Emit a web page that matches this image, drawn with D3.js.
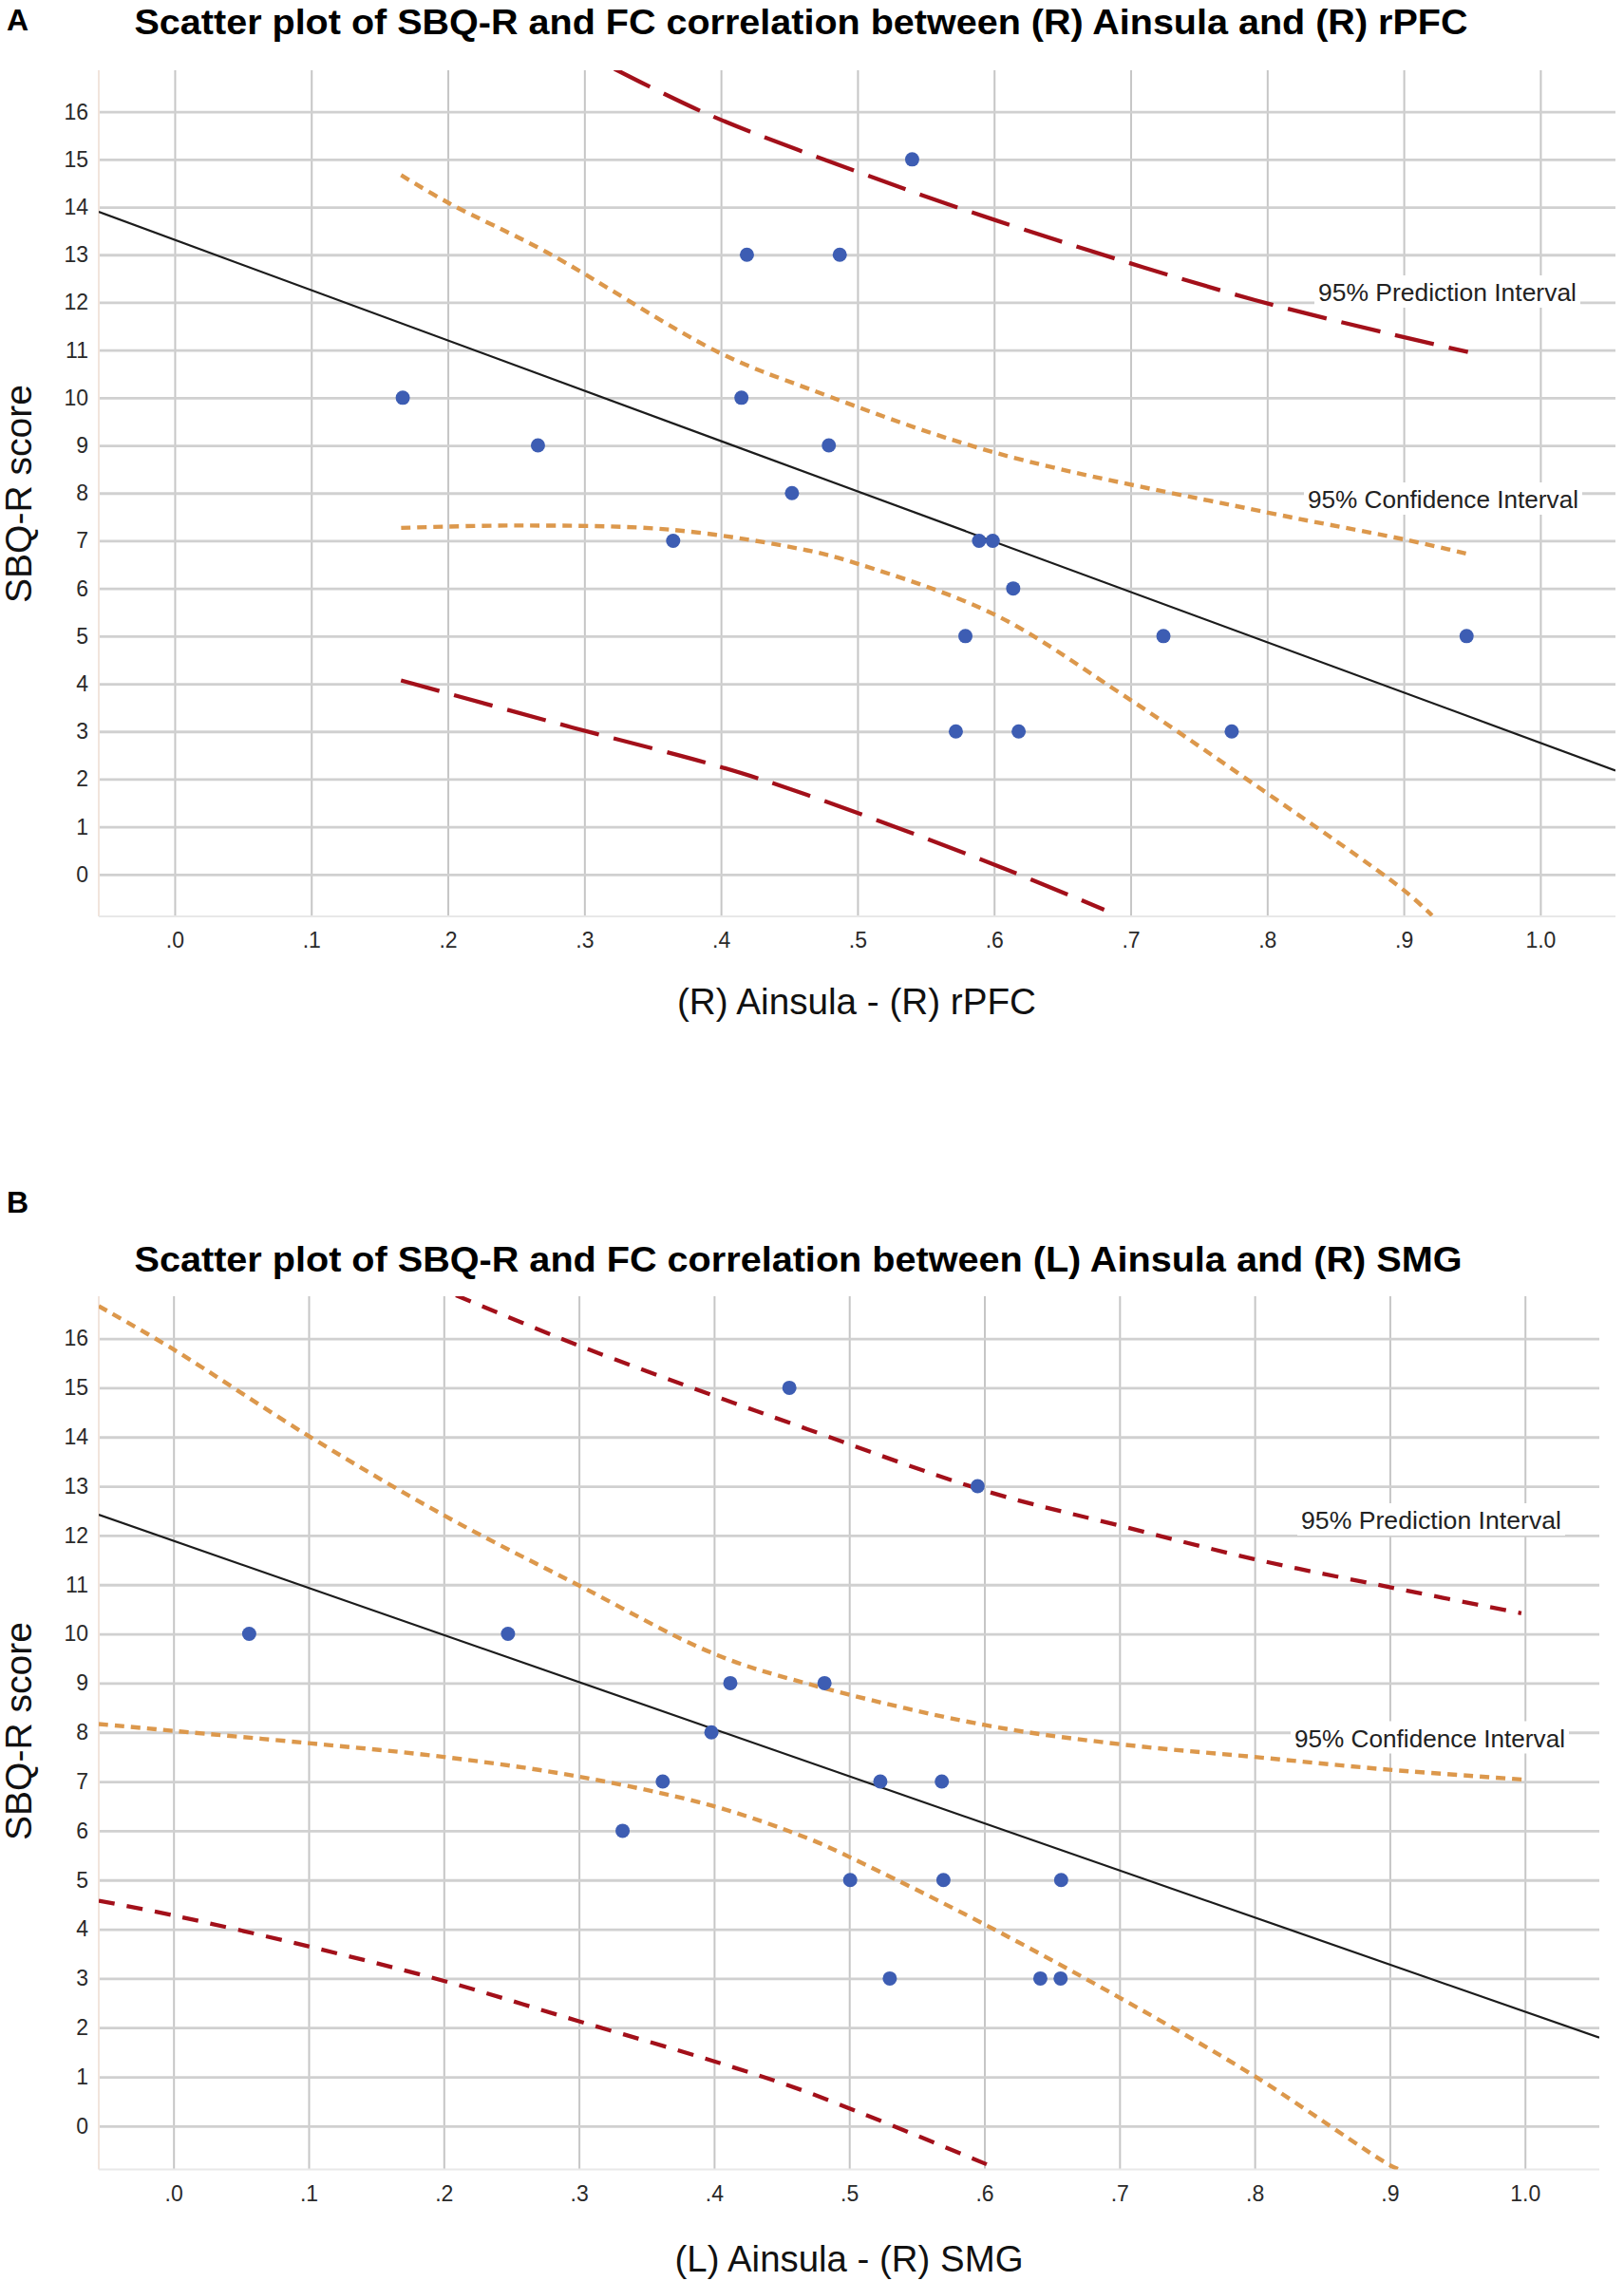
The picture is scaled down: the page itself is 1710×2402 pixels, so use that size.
<!DOCTYPE html>
<html lang="en">
<head>
<meta charset="UTF-8">
<title>SBQ-R and FC correlation scatter plots</title>
<script src="https://cdn.jsdelivr.net/npm/d3@7"></script>
<style>
    body {
        margin: 0;
        padding: 0;
        background: #ffffff;
        font-family: "Liberation Sans", Arial, sans-serif;
    }
    .xgrid line { stroke: #c6c6c6; stroke-width: 2; }
    .ygrid line { stroke: #d0d0d0; stroke-width: 2.8; }
    .xgrid text, .ygrid text { fill: #2a2a2a; }
</style>
</head>
<body>
<svg id="chart" width="1710" height="2402"></svg>
<script>
    // shared ticks
    const xTickValues = [0, 0.1, 0.2, 0.3, 0.4, 0.5, 0.6, 0.7, 0.8, 0.9, 1.0];
    const xTickLabels = [".0", ".1", ".2", ".3", ".4", ".5", ".6", ".7", ".8", ".9", "1.0"];
    const yTickValues = [0, 1, 2, 3, 4, 5, 6, 7, 8, 9, 10, 11, 12, 13, 14, 15, 16];

    // panel A : (R) Ainsula - (R) rPFC
    const aX = [0.167, 0.266, 0.419, 0.415, 0.452, 0.365, 0.540, 0.487, 0.479,
                0.589, 0.599, 0.614, 0.579, 0.724, 0.946, 0.572, 0.618, 0.774];
    const aY = [10, 9, 13, 10, 8, 7, 15, 13, 9, 7, 7, 6, 5, 5, 5, 3, 3, 3];
    const aFit = [[-0.0556, 13.9], [1.055, 2.18]];
    const aPIUpper = [[0.322, 16.9], [0.391, 15.94], [0.501, 14.73], [0.6005, 13.73], [0.791, 12.05], [0.947, 10.96]];
    const aPILower = [[0.1657, 4.07], [0.2915, 3.08], [0.398, 2.27], [0.463, 1.67], [0.6005, 0.2], [0.6806, -0.74]];
    const aCIUpper = [[0.1658, 14.67], [0.2003, 14.09], [0.2726, 13.05], [0.3985, 10.95], [0.465, 10.18],
                      [0.6005, 8.85], [0.799, 7.6], [0.900, 7.03], [0.946, 6.73]];
    const aCILower = [[0.1658, 7.27], [0.2535, 7.32], [0.364, 7.23], [0.463, 6.8], [0.501, 6.51], [0.6005, 5.45],
                      [0.692, 3.81], [0.791, 1.88], [0.900, -0.33], [0.9207, -0.86]];

    // panel B : (L) Ainsula - (R) SMG
    const bX = [0.056, 0.2475, 0.4557, 0.412, 0.595, 0.4817, 0.398, 0.362, 0.3323,
                0.523, 0.5685, 0.5007, 0.5697, 0.6568, 0.530, 0.6414, 0.6564];
    const bY = [10, 10, 15, 9, 13, 9, 8, 7, 6, 7, 7, 5, 5, 5, 3, 3, 3];
    const bFit = [[-0.0553, 12.42], [1.055, 1.80]];
    const bPIUpper = [[0.209, 16.88], [0.2996, 15.86], [0.3998, 14.84], [0.469, 14.16], [0.600, 12.91],
                      [0.700, 12.2], [0.7996, 11.52], [0.8998, 10.95], [0.9973, 10.42]];
    const bPILower = [[-0.0553, 4.58], [0.0, 4.28], [0.1, 3.65], [0.2, 2.95], [0.3, 2.13], [0.3996, 1.32],
                      [0.469, 0.69], [0.602, -0.78]];
    const bCIUpper = [[-0.0553, 16.66], [0.0, 15.78], [0.1, 14.02], [0.2, 12.41], [0.2996, 10.99], [0.3996, 9.6],
                      [0.469, 8.99], [0.600, 8.15], [0.700, 7.76], [0.7996, 7.5], [0.8998, 7.24], [0.9992, 7.04]];
    const bCILower = [[-0.0553, 8.17], [0.0, 8.03], [0.1, 7.78], [0.2, 7.5], [0.3, 7.1], [0.3996, 6.5],
                      [0.469, 5.85], [0.5007, 5.46], [0.600, 4.1], [0.700, 2.61], [0.7996, 1.02],
                      [0.8998, -0.79], [0.9085, -0.9]];

    const yTitle = "SBQ-R score";
    const piText = "95% Prediction Interval";
    const ciText = "95% Confidence Interval";

    const panels = [
        {
            id: "A", letter: "A", letterY: 32,
            title: "Scatter plot of SBQ-R and FC correlation between (R) Ainsula and (R) rPFC",
            titleY: 36, titleW: 1404,
            xTitle: "(R) Ainsula - (R) rPFC", xTitleW: 378, xTitleX: 902, xTitleY: 1068,
            yTitleY: 520,
            xs: aX, ys: aY, fit: aFit, piUp: aPIUpper, piLo: aPILower, ciUp: aCIUpper, ciLo: aCILower,
            left: 104, right: 1701, top: 74, bottom: 965,
            xDomain: [-0.0556, 1.055], yDomain: [-0.88, 16.87],
            redDash: "42,16",
            pi: { x: 1388, y: 317, w: 272 },
            ci: { x: 1377, y: 535, w: 285 }
        },
        {
            id: "B", letter: "B", letterY: 1277,
            title: "Scatter plot of SBQ-R and FC correlation between (L) Ainsula and (R) SMG",
            titleY: 1339, titleW: 1398,
            xTitle: "(L) Ainsula - (R) SMG", xTitleW: 367, xTitleX: 894, xTitleY: 2392,
            yTitleY: 1823,
            xs: bX, ys: bY, fit: bFit, piUp: bPIUpper, piLo: bPILower, ciUp: bCIUpper, ciLo: bCILower,
            left: 104, right: 1684, top: 1365, bottom: 2284.5,
            xDomain: [-0.0553, 1.055], yDomain: [-0.88, 16.86],
            redDash: "17,13",
            pi: { x: 1370, y: 1610, w: 274 },
            ci: { x: 1363, y: 1839.5, w: 285 }
        }
    ];

    const svg = d3.select("#chart");
    const defs = svg.append("defs");

    function drawPanel(p) {
        const x = d3.scaleLinear().domain(p.xDomain).range([p.left, p.right]);
        const y = d3.scaleLinear().domain(p.yDomain).range([p.bottom, p.top]);
        const g = svg.append("g").attr("id", "panel" + p.id);

        defs.append("clipPath").attr("id", "clip" + p.id)
            .append("rect")
            .attr("x", p.left).attr("y", p.top)
            .attr("width", p.right - p.left).attr("height", p.bottom - p.top);

        // panel letter and title
        g.append("text")
            .attr("x", 7).attr("y", p.letterY)
            .attr("font-size", 32).attr("font-weight", "bold")
            .text(p.letter);

        g.append("text")
            .attr("x", 141.5).attr("y", p.titleY)
            .attr("font-size", 36).attr("font-weight", "bold")
            .attr("textLength", p.titleW).attr("lengthAdjust", "spacingAndGlyphs")
            .text(p.title);

        // vertical grid lines + x tick labels
        g.append("g")
            .attr("class", "xgrid")
            .attr("transform", `translate(0,${p.bottom})`)
            .call(d3.axisBottom(x)
                .tickValues(xTickValues)
                .tickFormat((d, i) => xTickLabels[i])
                .tickSize(-(p.bottom - p.top))
                .tickPadding(17))
            .call(a => a.select(".domain").remove())
            .attr("font-size", 23)
            .attr("font-family", "'Liberation Sans', Arial, sans-serif");

        // horizontal grid lines + y tick labels
        g.append("g")
            .attr("class", "ygrid")
            .attr("transform", `translate(${p.left},0)`)
            .call(d3.axisLeft(y)
                .tickValues(yTickValues)
                .tickFormat(d3.format("d"))
                .tickSize(-(p.right - p.left))
                .tickPadding(11))
            .call(a => a.select(".domain").remove())
            .attr("font-size", 23)
            .attr("font-family", "'Liberation Sans', Arial, sans-serif");

        // faint frame on left and bottom
        g.append("line")
            .attr("x1", p.left).attr("x2", p.left).attr("y1", p.top).attr("y2", p.bottom)
            .attr("stroke", "#f1e4dc").attr("stroke-width", 2);
        g.append("line")
            .attr("x1", p.left).attr("x2", p.right).attr("y1", p.bottom).attr("y2", p.bottom)
            .attr("stroke", "#e8e8e8").attr("stroke-width", 2);

        // axis titles
        g.append("text")
            .attr("x", p.xTitleX).attr("y", p.xTitleY)
            .attr("text-anchor", "middle")
            .attr("font-size", 38)
            .attr("fill", "#111")
            .attr("textLength", p.xTitleW).attr("lengthAdjust", "spacingAndGlyphs")
            .text(p.xTitle);

        g.append("text")
            .attr("transform", `translate(33,${p.yTitleY}) rotate(-90)`)
            .attr("text-anchor", "middle")
            .attr("font-size", 38)
            .attr("fill", "#111")
            .attr("textLength", 230).attr("lengthAdjust", "spacingAndGlyphs")
            .text(yTitle);

        // interval labels with white backing boxes
        [[p.pi, piText], [p.ci, ciText]].forEach(([lab, txt]) => {
            g.append("rect")
                .attr("x", lab.x - 4).attr("y", lab.y - 27)
                .attr("width", lab.w + 8).attr("height", 34)
                .attr("fill", "#ffffff");
            g.append("text")
                .attr("x", lab.x).attr("y", lab.y)
                .attr("font-size", 26)
                .attr("fill", "#222")
                .attr("textLength", lab.w).attr("lengthAdjust", "spacingAndGlyphs")
                .text(txt);
        });

        const plot = g.append("g").attr("clip-path", `url(#clip${p.id})`);
        const curve = d3.line()
            .x(d => x(d[0]))
            .y(d => y(d[1]))
            .curve(d3.curveCatmullRom.alpha(0.5));

        // confidence interval (orange dotted)
        [p.ciUp, p.ciLo].forEach(pts => {
            plot.append("path")
                .datum(pts)
                .attr("d", curve)
                .attr("fill", "none")
                .attr("stroke", "#dc984c")
                .attr("stroke-width", 4.4)
                .attr("stroke-dasharray", "10,7");
        });

        // prediction interval (dark red dashed)
        [p.piUp, p.piLo].forEach(pts => {
            plot.append("path")
                .datum(pts)
                .attr("d", curve)
                .attr("fill", "none")
                .attr("stroke", "#a3101a")
                .attr("stroke-width", 4.3)
                .attr("stroke-dasharray", p.redDash);
        });

        // fit line
        plot.append("path")
            .datum(p.fit)
            .attr("d", d3.line().x(d => x(d[0])).y(d => y(d[1])))
            .attr("fill", "none")
            .attr("stroke", "#1c1c1c")
            .attr("stroke-width", 2.2);

        // points
        plot.selectAll("circle.pt")
            .data(p.xs.map((v, i) => [v, p.ys[i]]))
            .enter().append("circle")
            .attr("class", "pt")
            .attr("cx", d => x(d[0]))
            .attr("cy", d => y(d[1]))
            .attr("r", 7.5)
            .attr("fill", "#3d5db3");
    }

    panels.forEach(drawPanel);
</script>
</body>
</html>
